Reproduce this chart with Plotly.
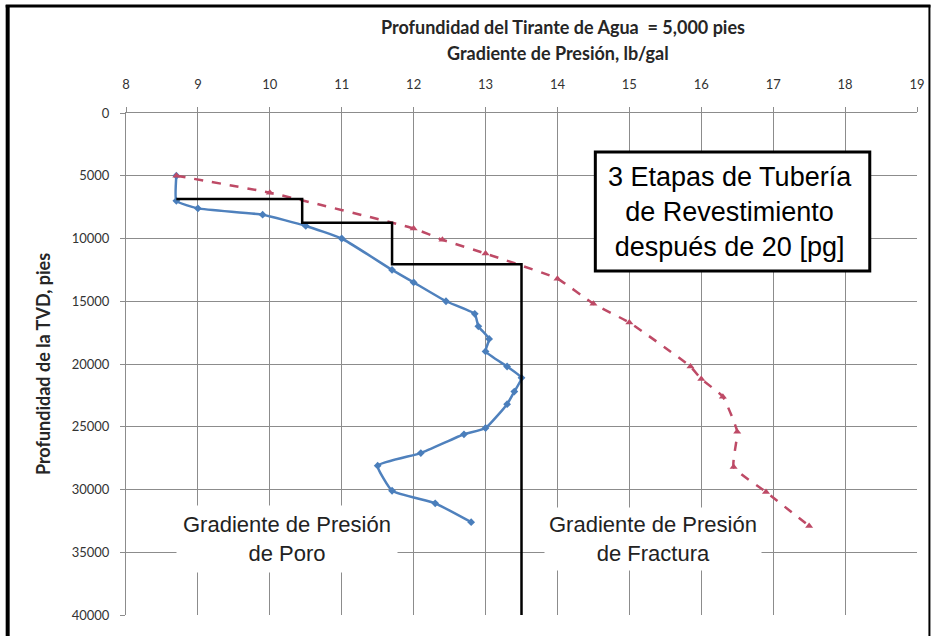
import plotly.graph_objects as go

# ---------------- data ----------------
pore_gradient = [8.7, 8.7, 9.0, 9.9, 10.5, 11.0, 11.7, 12.0, 12.45, 12.85, 12.9, 13.05, 13.0,
                 13.3, 13.5, 13.4, 13.3, 13.0, 12.7, 12.1, 11.5, 11.7, 12.3, 12.8]
pore_depth = [5000, 7000, 7600, 8100, 9000, 10000, 12500, 13500, 15000, 16000, 17000, 18000, 19000,
              20200, 21100, 22200, 23200, 25100, 25600, 27100, 28100, 30100, 31100, 32600]

frac_gradient = [8.7, 10.0, 12.0, 12.4, 13.0, 14.0, 14.5, 15.0, 15.85, 16.0, 16.3, 16.5, 16.45, 16.9, 17.5]
frac_depth = [5000, 6350, 9200, 10100, 11200, 13200, 15200, 16700, 20200, 21200, 22600, 25400, 28200, 30200, 32900]

casing_gradient = [8.7, 10.45, 10.45, 11.7, 11.7, 13.5, 13.5]
casing_depth = [6850, 6850, 8750, 8750, 12050, 12050, 40000]

x_ticks = list(range(8, 20))
y_ticks = list(range(0, 40001, 5000))

title_line1 = "Profundidad del Tirante de Agua  = 5,000 pies"
title_line2 = "Gradiente de Presión, lb/gal"
y_title = "Profundidad de la TVD, pies"
box_text = "3 Etapas de Tubería<br>de Revestimiento<br>después de 20 [pg]"
pore_label = "Gradiente de Presión<br>de Poro"
frac_label = "Gradiente de Presión<br>de Fractura"

# ---------------- layout helpers ----------------
W, H = 937, 636
L, R, T, B = 126, W - 921.5, 113, H - 615
PW, PH = W - L - R, H - T - B


def px(x):
    return (x - L) / PW


def py(y):
    return (H - B - y) / PH


GRID = "#8c8c8c"
TICKFONT = dict(family="Lato, Open Sans, sans-serif", size=13, color="#333333")
BOLD = dict(family="Lato, Open Sans, sans-serif", size=18, color="#262626", weight="bold")

fig = go.Figure()

fig.add_trace(go.Scatter(
    x=pore_gradient, y=pore_depth, mode="lines+markers",
    line=dict(color="#4f81bd", width=2.5, shape="spline", smoothing=0.4),
    marker=dict(symbol="diamond", size=6, color="#4a7ebb"),
    showlegend=False, name="Poro"))

fig.add_trace(go.Scatter(
    x=frac_gradient, y=frac_depth, mode="lines+markers",
    line=dict(color="#be4a66", width=2.5, dash="dash", shape="spline", smoothing=0.4),
    marker=dict(symbol="triangle-up", size=7, color="#be4a66"),
    showlegend=False, name="Fractura"))

fig.add_trace(go.Scatter(
    x=casing_gradient, y=casing_depth, mode="lines",
    line=dict(color="black", width=2.5),
    showlegend=False, name="Tubería"))

fig.update_layout(
    width=W, height=H,
    margin=dict(l=L, r=R, t=T, b=B),
    paper_bgcolor="white", plot_bgcolor="white",
    title=dict(text=title_line1, x=563 / W, xanchor="center", y=1 - 28 / H,
               yanchor="middle", yref="container", xref="container", font=BOLD),
    xaxis=dict(side="top", range=[8, 19], tickvals=x_ticks, showgrid=True, gridcolor=GRID, gridwidth=1,
               showline=True, linecolor=GRID, linewidth=1, ticks="outside", ticklen=5, tickcolor=GRID,
               ticklabelstandoff=13, tickfont=TICKFONT, zeroline=False),
    yaxis=dict(range=[40000, 0], tickvals=y_ticks, tickformat="d", showgrid=True, gridcolor=GRID, gridwidth=1,
               showline=True, linecolor=GRID, linewidth=1, ticks="outside", ticklen=5, tickcolor=GRID,
               ticklabelstandoff=8, tickfont=TICKFONT, zeroline=False,
               title=dict(text=y_title, font=BOLD, standoff=16)),
    shapes=[
        # outer frame
        dict(type="line", xref="paper", yref="paper", x0=px(7), x1=px(7), y0=py(660), y1=py(5),
             line=dict(color="black", width=4)),
        dict(type="line", xref="paper", yref="paper", x0=px(5), x1=px(935), y0=py(6), y1=py(6),
             line=dict(color="black", width=3)),
        dict(type="line", xref="paper", yref="paper", x0=px(934), x1=px(934), y0=py(660), y1=py(5),
             line=dict(color="black", width=2)),
        # annotation box
        dict(type="rect", xref="paper", yref="paper", x0=px(598), x1=px(874), y0=py(271), y1=py(152),
             fillcolor="white", line=dict(color="black", width=3), layer="above"),
    ],
    annotations=[
        dict(text=title_line2, xref="paper", yref="paper", x=px(560), y=py(53), showarrow=False,
             xanchor="center", yanchor="middle", font=BOLD),
        dict(text=box_text, xref="paper", yref="paper", x=px(733), y=py(212), showarrow=False,
             xanchor="center", yanchor="middle",
             font=dict(family="Liberation Sans, Arial, sans-serif", size=27, color="black")),
        dict(text=pore_label, xref="paper", yref="paper", x=px(288), y=py(539), showarrow=False,
             xanchor="center", yanchor="middle", bgcolor="white", borderpad=6,
             font=dict(family="Liberation Sans, Arial, sans-serif", size=22, color="#222222")),
        dict(text=frac_label, xref="paper", yref="paper", x=px(656), y=py(539), showarrow=False,
             xanchor="center", yanchor="middle", bgcolor="white", borderpad=4,
             font=dict(family="Liberation Sans, Arial, sans-serif", size=22, color="#222222")),
    ],
)

# remove the default 8 px page margin so the figure sits at the window's top-left corner
fig.write_html("out.html", config={"displayModeBar": False},
               post_script="document.body.style.margin='0px';")
